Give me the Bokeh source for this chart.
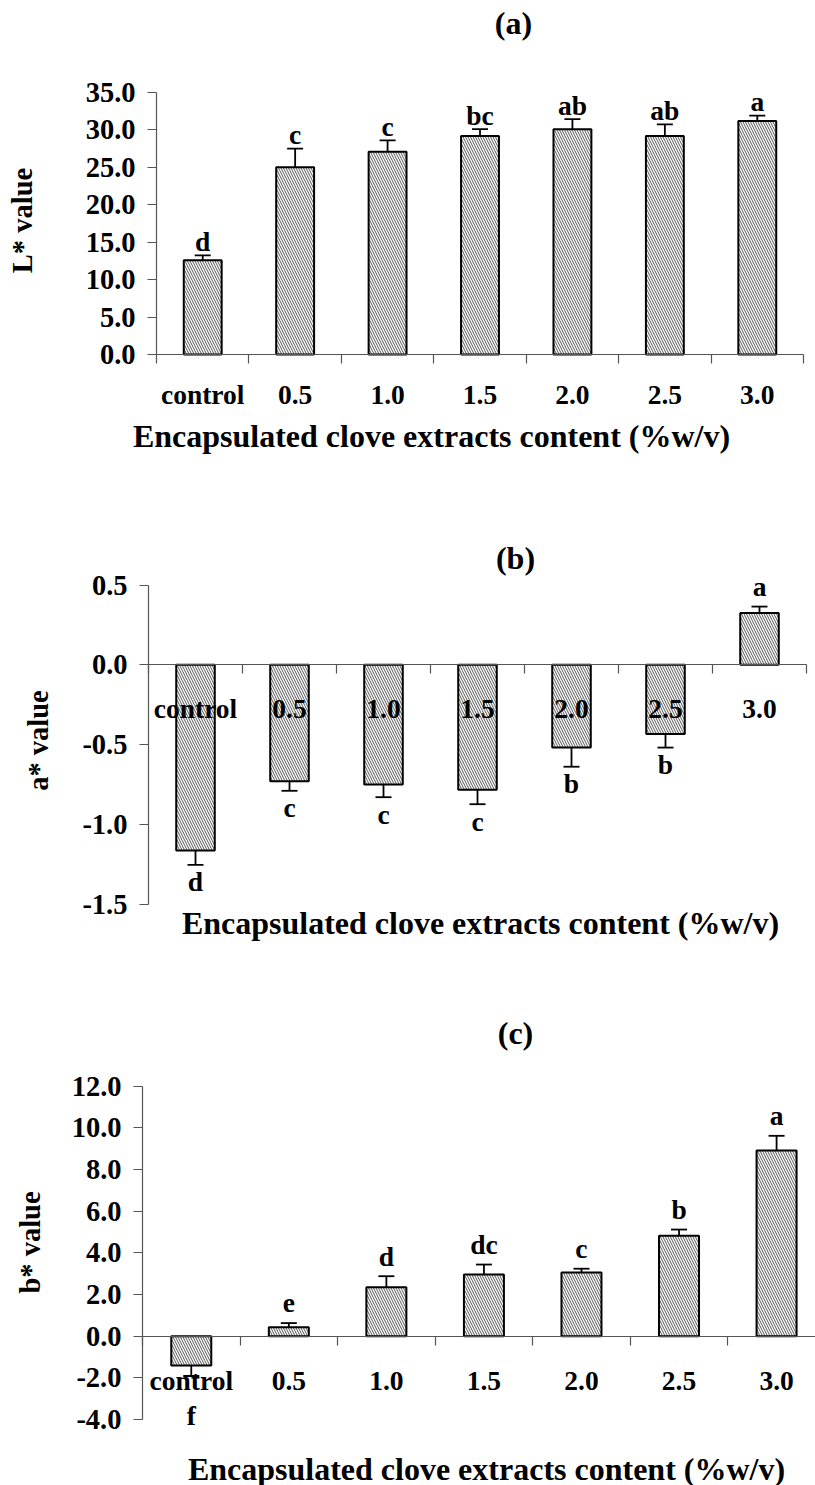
import numpy as np
from bokeh.plotting import figure
from bokeh.layouts import column
from bokeh.models import (ColumnDataSource, Range1d, FixedTicker, NumeralTickFormatter,
                          Whisker, TeeHead, LabelSet, Label)
from bokeh.core.properties import value
from bokeh.embed import file_html
from bokeh.resources import INLINE

# ---- data -------------------------------------------------------------
categories = ["control", "0.5", "1.0", "1.5", "2.0", "2.5", "3.0"]

l_values = [12.6, 25.0, 27.1, 29.2, 30.1, 29.2, 31.2]
l_errors = [0.65, 2.5, 1.5, 0.9, 1.35, 1.55, 0.7]
l_letters = ["d", "c", "c", "bc", "ab", "ab", "a"]
l_ticks = [0, 5, 10, 15, 20, 25, 30, 35]

a_values = [-1.165, -0.73, -0.75, -0.784, -0.519, -0.434, 0.325]
a_errors = [0.09, 0.06, 0.08, 0.09, 0.12, 0.085, 0.04]
a_letters = ["d", "c", "c", "c", "b", "b", "a"]
a_ticks = [-1.5, -1.0, -0.5, 0.0, 0.5]

b_values = [-1.41, 0.43, 2.35, 2.96, 3.06, 4.82, 8.92]
b_errors = [0.5, 0.2, 0.53, 0.48, 0.18, 0.3, 0.7]
b_letters = ["f", "e", "d", "dc", "c", "b", "a"]
b_ticks = [-4, -2, 0, 2, 4, 6, 8, 10, 12]

x_title = "Encapsulated clove extracts content (%w/v)"

# ---- styling ----------------------------------------------------------
FONT = "Liberation Serif"
AXIS = "#555555"
X_TICK_SIZE = "27.5px"
Y_TICK_SIZE = "28.5px"
LETTER_SIZE = "27.5px"
TITLE_SIZE = "32px"
PAGE_W = 815


def panel(values, errors, letters, ticks, ylabel, tag, box, marks,
          up_off, down_off, label_standoff):
    """box: (top row, height, y-axis column, px per category, zero row, px per unit),
    all in page pixels; marks: page-pixel centres of tag, x title and y label."""
    top, height, axis_px, cat_px, zero_py, unit_py = box
    n = len(categories)

    def dx(px):
        return -0.5 + (px - axis_px) / cat_px

    def dy(py):
        return (zero_py - py) / unit_py

    # the frame fills the whole canvas; the axes sit at fixed data positions
    p = figure(width=PAGE_W, height=height,
               x_range=Range1d(dx(0), dx(PAGE_W)),
               y_range=Range1d(dy(top + height), dy(top)),
               output_backend="svg", toolbar_location=None,
               min_border_left=0, min_border_right=0,
               min_border_top=0, min_border_bottom=0)
    p.xgrid.visible = False
    p.ygrid.visible = False
    p.outline_line_color = None
    p.background_fill_color = "white"
    p.border_fill_color = "white"

    upper = [v + e for v, e in zip(values, errors)]
    lower = [v - e for v, e in zip(values, errors)]
    ly = [u if v >= 0 else lo for v, u, lo in zip(values, upper, lower)]
    off = [up_off if v >= 0 else -down_off for v in values]
    src = ColumnDataSource(dict(x=list(range(n)), top=values, upper=upper,
                                lower=lower, letter=letters, ly=ly, off=off))

    p.vbar(x="x", top="top", bottom=0, width=0.41, source=src,
           fill_color="white", line_color="black", line_width=2,
           hatch_pattern="left_diagonal_line", hatch_color="#555555",
           hatch_scale=5, hatch_weight=1)

    head = dict(size=16, line_color="black", line_width=1.8)
    p.add_layout(Whisker(source=src, base="x", upper="upper", lower="lower",
                         line_color="black", line_width=1.8,
                         upper_head=TeeHead(**head), lower_head=TeeHead(**head)))

    p.add_layout(LabelSet(x="x", y="ly", text="letter", y_offset="off", source=src,
                          text_align="center", text_baseline="middle",
                          text_font=value(FONT), text_font_style="bold",
                          text_font_size=LETTER_SIZE, text_color="black"))

    # category axis: labels under the bars, tick marks between them
    xa = p.xaxis[0]
    xa.ticker = FixedTicker(ticks=list(range(n)),
                            minor_ticks=[i - 0.5 for i in range(n + 1)])
    xa.major_label_overrides = {i: c for i, c in enumerate(categories)}
    xa.fixed_location = 0
    xa.bounds = (-0.5, n - 0.5)
    xa.axis_line_color = AXIS
    xa.axis_line_width = 1.2
    xa.major_tick_line_color = None
    xa.major_tick_out = 0
    xa.major_tick_in = 0
    xa.minor_tick_line_color = AXIS
    xa.minor_tick_line_width = 1.2
    xa.minor_tick_out = 9
    xa.minor_tick_in = 0
    xa.major_label_standoff = label_standoff
    xa.major_label_text_font = FONT
    xa.major_label_text_font_style = "bold"
    xa.major_label_text_font_size = X_TICK_SIZE
    xa.major_label_text_color = "black"

    ya = p.yaxis[0]
    ya.ticker = FixedTicker(ticks=ticks, minor_ticks=[])
    ya.formatter = NumeralTickFormatter(format="0.0")
    ya.fixed_location = -0.5
    ya.bounds = (ticks[0], ticks[-1])
    ya.axis_line_color = AXIS
    ya.axis_line_width = 1.2
    ya.major_tick_line_color = AXIS
    ya.major_tick_line_width = 1.2
    ya.major_tick_out = 9
    ya.major_tick_in = 0
    ya.minor_tick_line_color = None
    ya.major_label_standoff = 12
    ya.major_label_text_font = FONT
    ya.major_label_text_font_style = "bold"
    ya.major_label_text_font_size = Y_TICK_SIZE
    ya.major_label_text_color = "black"

    (tx, ty), (xx, xy), (yx, yy) = marks
    common = dict(text_font=FONT, text_font_style="bold", text_color="black",
                  text_align="center", text_baseline="middle")
    p.add_layout(Label(x=dx(tx), y=dy(ty), text=tag,
                       text_font_size=TITLE_SIZE, **common))
    p.add_layout(Label(x=dx(xx), y=dy(xy), text=x_title,
                       text_font_size=TITLE_SIZE, **common))
    p.add_layout(Label(x=dx(yx), y=dy(yy), text=ylabel, angle=np.pi / 2,
                       text_font_size=Y_TICK_SIZE, **common))
    return p


fig_l = panel(l_values, l_errors, l_letters, l_ticks, "L* value", "(a)",
              box=(0, 470, 156, 92.43, 354, 7.486),
              marks=((513, 22), (431, 435), (22, 220)),
              up_off=14, down_off=16, label_standoff=15)

fig_a = panel(a_values, a_errors, a_letters, a_ticks, "a* value", "(b)",
              box=(470, 490, 148, 94.0, 664.3, 159.5),
              marks=((515, 557), (480, 922), (38, 740)),
              up_off=20, down_off=17, label_standoff=19)

fig_b = panel(b_values, b_errors, b_letters, b_ticks, "b* value", "(c)",
              box=(960, 525, 142, 97.55, 1335.7, 20.83),
              marks=((515, 1032), (486, 1468), (30, 1242)),
              up_off=20, down_off=40, label_standoff=20)

page = column(fig_l, fig_a, fig_b, spacing=0)

open("out.html", "w").write(file_html(page, INLINE))
